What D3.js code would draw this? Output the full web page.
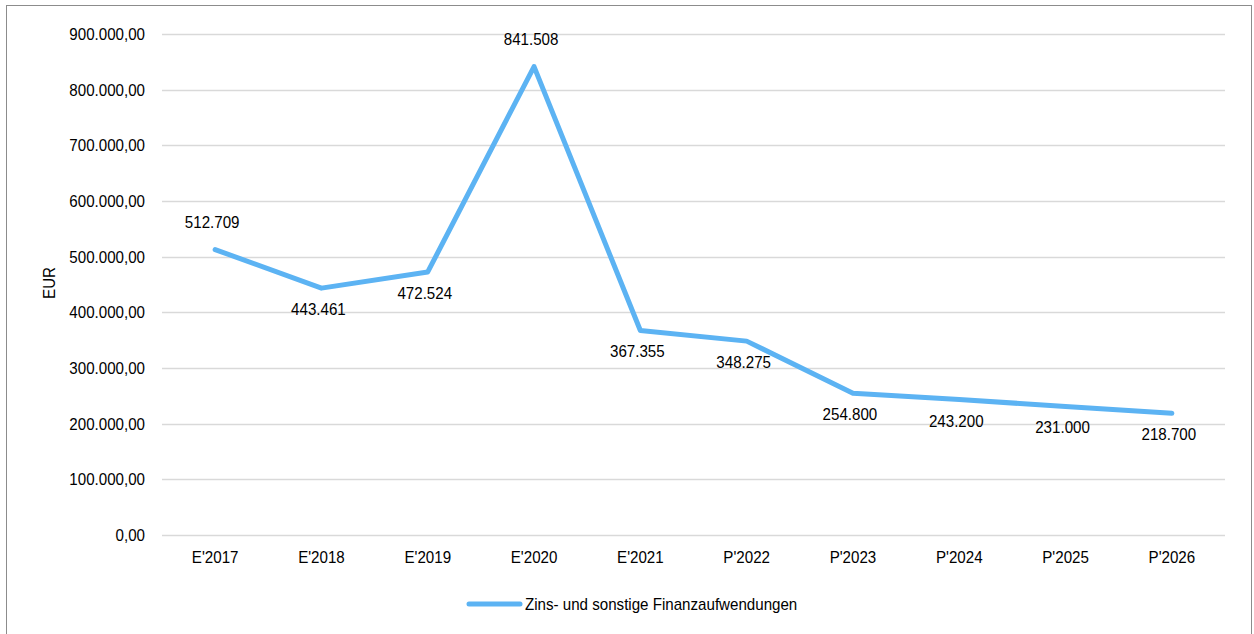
<!DOCTYPE html>
<html>
<head>
<meta charset="utf-8">
<script src="https://cdn.jsdelivr.net/npm/d3@7"></script>
<style>
  body { margin: 0; background: #fff; }
  svg { font-family: "Liberation Sans", Arial, sans-serif; }
</style>
</head>
<body>
<svg id="chart" width="1254" height="634"></svg>
<script>
var categories = ["E'2017", "E'2018", "E'2019", "E'2020", "E'2021", "P'2022", "P'2023", "P'2024", "P'2025", "P'2026"];
var values = [512709, 443461, 472524, 841508, 367355, 348275, 254800, 243200, 231000, 218700];
// label above (1) or below (0) the point
var labelAbove = [1, 0, 0, 1, 0, 0, 0, 0, 0, 0];
var yTicks = [0, 100000, 200000, 300000, 400000, 500000, 600000, 700000, 800000, 900000];
var seriesName = "Zins- und sonstige Finanzaufwendungen";

var svg = d3.select("#chart");
var margin = { top: 34, left: 162, right: 29, bottom: 99 };
var W = 1254, H = 634;
var FS = 17, SX = 0.89; // font size and horizontal squeeze (narrow look)

// squeeze text horizontally around its own anchor point
function narrow(sel) {
  sel.each(function () {
    var t = d3.select(this);
    var tx = +t.attr("x") || 0, ty = +t.attr("y") || 0;
    t.attr("transform", "translate(" + tx + "," + ty + ") scale(" + SX + ",1) translate(" + (-tx) + "," + (-ty) + ")");
  });
}

// frame
svg.append("rect")
  .attr("x", 6.5).attr("y", 5.5)
  .attr("width", 1245).attr("height", 640)
  .attr("fill", "#fff").attr("stroke", "#8c8c8c").attr("stroke-width", 1);

var x = d3.scaleBand().domain(categories).range([margin.left, W - margin.right]);
var y = d3.scaleLinear().domain([0, 900000]).range([H - margin.bottom, margin.top]);

var deFmt = d3.formatLocale({ decimal: ",", thousands: ".", grouping: [3], currency: ["", " €"] });
var tickFmt = deFmt.format(",.2f");
var lblFmt = deFmt.format(",.0f");

// gridlines
svg.append("g").selectAll("line").data(yTicks).enter().append("line")
  .attr("x1", margin.left).attr("x2", W - margin.right)
  .attr("y1", function (d) { return Math.round(y(d)) + 0.5; })
  .attr("y2", function (d) { return Math.round(y(d)) + 0.5; })
  .attr("stroke", "#d9d9d9").attr("stroke-width", 1.5);

// y axis labels
var yAxis = d3.axisLeft(y).tickValues(yTicks).tickFormat(tickFmt).tickSize(0).tickPadding(17);
var ga = svg.append("g").attr("transform", "translate(" + margin.left + ",0)").call(yAxis);
ga.select(".domain").remove();
ga.selectAll("text").attr("font-size", FS).attr("fill", "#000").attr("font-family", null).call(narrow);

// x axis labels
var xAxis = d3.axisBottom(x).tickSize(0).tickPadding(16);
var gx = svg.append("g").attr("transform", "translate(0," + (H - margin.bottom) + ")").call(xAxis);
gx.select(".domain").remove();
gx.selectAll("text").attr("font-size", FS).attr("fill", "#000").attr("font-family", null).call(narrow);

// y title
svg.append("text")
  .attr("transform", "translate(55,283) rotate(-90) scale(" + SX + ",1)")
  .attr("text-anchor", "middle")
  .attr("font-size", FS)
  .text("EUR");

// line
var line = d3.line()
  .x(function (d, i) { return x(categories[i]) + x.bandwidth() / 2; })
  .y(function (d) { return y(d); });

svg.append("path")
  .datum(values)
  .attr("d", line)
  .attr("fill", "none")
  .attr("stroke", "#5cb3f3")
  .attr("stroke-width", 5)
  .attr("stroke-linecap", "round")
  .attr("stroke-linejoin", "round");

// data labels
svg.append("g").selectAll("text").data(values).enter().append("text")
  .attr("x", function (d, i) { return x(categories[i]) + x.bandwidth() / 2 - 3; })
  .attr("y", function (d, i) { return labelAbove[i] ? y(d) - 22 : y(d) + 27; })
  .attr("text-anchor", "middle")
  .attr("font-size", FS)
  .text(function (d) { return lblFmt(d); })
  .call(narrow);

// legend
svg.append("line")
  .attr("x1", 469).attr("x2", 520)
  .attr("y1", 604).attr("y2", 604)
  .attr("stroke", "#5cb3f3").attr("stroke-width", 5).attr("stroke-linecap", "round");
svg.append("text")
  .attr("x", 525).attr("y", 610)
  .attr("font-size", FS)
  .text(seriesName)
  .call(narrow);
</script>
</body>
</html>
